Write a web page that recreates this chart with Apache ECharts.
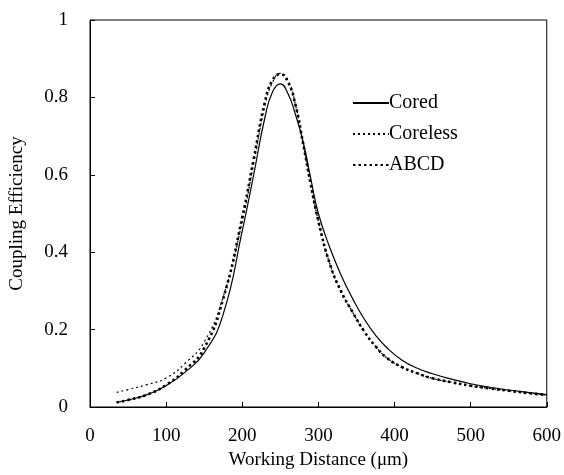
<!DOCTYPE html>
<html>
<head>
<meta charset="utf-8">
<script src="https://cdn.jsdelivr.net/npm/echarts@6/dist/echarts.min.js"></script>
<style>html,body{margin:0;padding:0;background:#fff}#c{width:564px;height:475px}</style>
</head>
<body>
<div id="c"></div>
<script>
const distance = [35,50,75,100,125,150,175,200,215,230,240,250,260,270,280,290,300,315,330,345,360,375,390,410,430,450,475,500,525,550,575,600];
const cored =    [0.012,0.018,0.032,0.055,0.090,0.140,0.240,0.455,0.600,0.750,0.815,0.835,0.810,0.755,0.685,0.590,0.500,0.412,0.340,0.280,0.228,0.186,0.153,0.121,0.100,0.086,0.072,0.060,0.051,0.044,0.038,0.032];
const coreless = [0.038,0.045,0.058,0.075,0.113,0.168,0.285,0.480,0.630,0.780,0.840,0.862,0.845,0.780,0.680,0.575,0.480,0.370,0.298,0.245,0.196,0.157,0.127,0.103,0.087,0.074,0.064,0.055,0.048,0.042,0.036,0.031];
const abcd =     [0.012,0.018,0.032,0.057,0.096,0.152,0.280,0.490,0.640,0.790,0.845,0.860,0.840,0.780,0.680,0.575,0.480,0.370,0.298,0.245,0.196,0.157,0.127,0.103,0.087,0.074,0.064,0.055,0.048,0.042,0.036,0.031];
const xTicks = [0,100,200,300,400,500,600];
const yTicks = [0,0.2,0.4,0.6,0.8,1];

const pair = (ys) => distance.map((d,i)=>[d, ys[i]]);
const font = 'Liberation Serif, Times New Roman, serif';
const chart = echarts.init(document.getElementById('c'), null, {renderer:'canvas'});
chart.setOption({
  animation:false,
  backgroundColor:'#fff',
  grid:{left:90,right:16,top:20,bottom:66,show:true,borderColor:'#000',borderWidth:1,backgroundColor:'transparent'},
  legend:{
    orient:'vertical', left:347, top:88, itemWidth:36, itemHeight:20, itemGap:11,
    itemStyle:{opacity:0},
    textStyle:{fontFamily:font,fontSize:20,color:'#000',padding:[0,0,0,-5]},
    data:['Cored','Coreless','ABCD']
  },
  xAxis:{
    type:'value', min:xTicks[0], max:xTicks[xTicks.length-1], interval:100,
    name:'Working Distance (μm)', nameLocation:'middle', nameGap:44,
    nameTextStyle:{fontFamily:font,fontSize:19,color:'#000'},
    axisLine:{lineStyle:{color:'#000',width:1}},
    axisTick:{inside:true,length:5,lineStyle:{color:'#000'}},
    axisLabel:{fontFamily:font,fontSize:19,color:'#000',margin:20},
    splitLine:{show:false}
  },
  yAxis:{
    type:'value', min:yTicks[0], max:yTicks[yTicks.length-1], interval:0.2,
    name:'Coupling Efficiency', nameLocation:'middle', nameGap:63,
    nameTextStyle:{fontFamily:font,fontSize:19,color:'#000'},
    axisLine:{show:true,lineStyle:{color:'#000',width:1}},
    axisTick:{show:true,inside:true,length:5,lineStyle:{color:'#000'}},
    axisLabel:{fontFamily:font,fontSize:19,color:'#000',margin:22,formatter:v=>String(Math.round(v*10)/10)},
    splitLine:{show:false}
  },
  series:[
    {name:'Cored',type:'line',data:pair(cored),smooth:0.5,symbol:'none',
     lineStyle:{color:'#000',width:1.2},itemStyle:{color:'#000'}},
    {name:'Coreless',type:'line',data:pair(coreless),smooth:0.5,symbol:'none',
     lineStyle:{color:'#000',width:1.2,type:[2,3]},itemStyle:{color:'#000'}},
    {name:'ABCD',type:'line',data:pair(abcd),smooth:0.5,symbol:'none',
     lineStyle:{color:'#000',width:2.6,type:[2.5,3]},itemStyle:{color:'#000'}}
  ]
});
</script>
</body>
</html>
